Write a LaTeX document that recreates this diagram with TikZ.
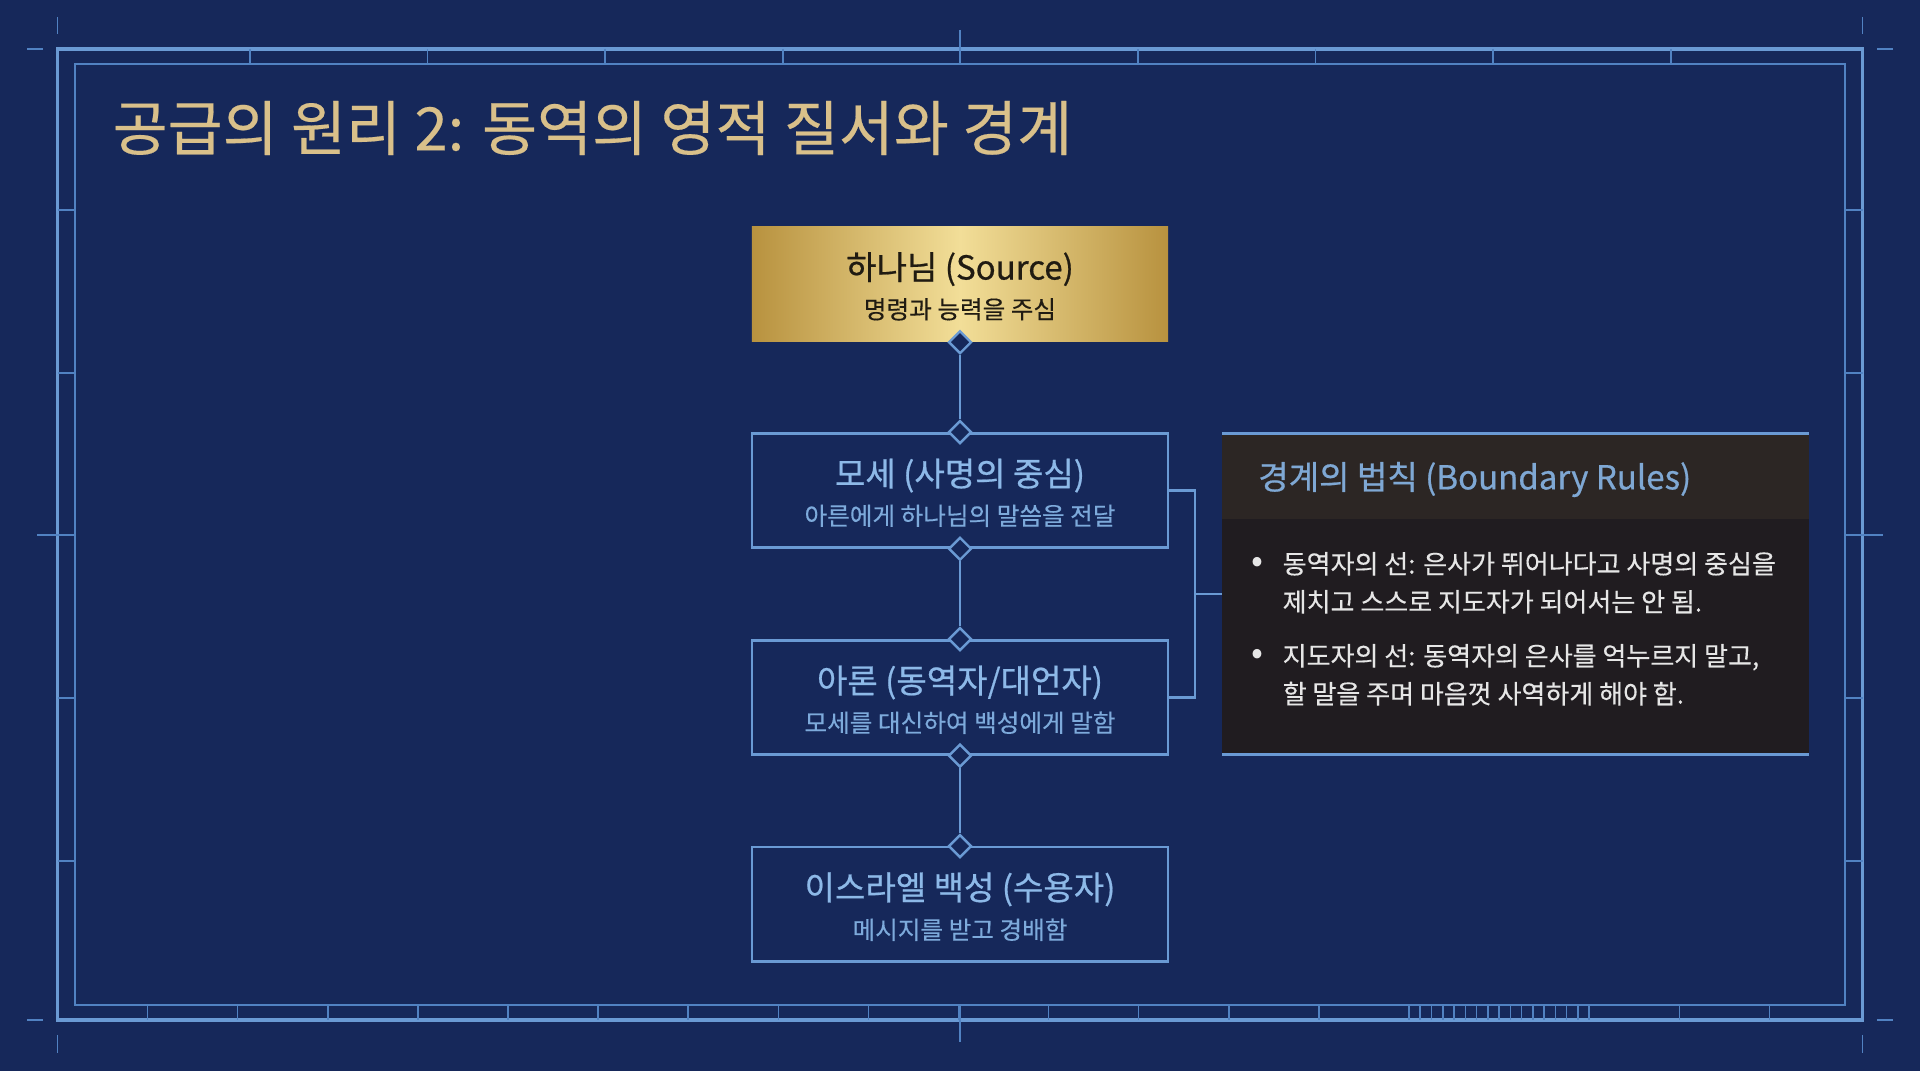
\documentclass[tikz,border=0pt]{standalone}
\usepackage{fontspec}
\setmainfont{Noto Sans CJK KR}
\newfontfamily\krheavy[FakeBold=0.6]{Noto Sans CJK KR}
\newfontfamily\krsoft[FakeBold=0.3]{Noto Sans CJK KR}
\usepackage{tikz}
\usepackage{xcolor}
\usetikzlibrary{arrows.meta,calc,shapes.geometric}

\definecolor{navy}{HTML}{16285A}
\definecolor{rule}{HTML}{6A9AD4}
\definecolor{ruledim}{HTML}{5182C2}
\definecolor{skytext}{HTML}{8DB9E8}
\definecolor{skysub}{HTML}{7DAADB}
\definecolor{goldtitle}{HTML}{D9C08A}
\definecolor{golddark}{HTML}{B8923F}
\definecolor{goldlight}{HTML}{F2DE98}
\definecolor{goldink}{HTML}{201B12}
\definecolor{panelhead}{HTML}{2C2624}
\definecolor{panelbody}{HTML}{201C20}
\definecolor{paneltitle}{HTML}{7FA8D4}
\definecolor{bullettext}{HTML}{E6E6E6}

\begin{document}
\begin{tikzpicture}[x=0.01cm, y=-0.01cm, >=Stealth,
    outerline/.style={rule, line width=1pt},
    innerline/.style={ruledim, line width=0.55pt},
    tick/.style={ruledim, line width=0.45pt},
    card/.style={draw=rule, line width=0.7pt, fill=navy, minimum width=4.16cm, minimum height=1.14cm, inner sep=0},
    goldcard/.style={card, draw=none, left color=golddark, right color=golddark, middle color=goldlight},
    cardhead/.style={font=\krheavy\fontsize{9.4}{11}\selectfont, text=skytext, inner sep=0, text height=0.8em, text depth=0.2em},
    cardsub/.style={font=\krsoft\fontsize{7}{8}\selectfont, text=skysub, inner sep=0, text height=0.8em, text depth=0.2em},
    joint/.style={diamond, draw=rule, fill=navy, line width=0.7pt, minimum width=0.23cm, minimum height=0.23cm, inner sep=0},
    link/.style={rule, line width=0.7pt},
    bullet/.style={font=\krsoft\fontsize{7.4}{8}\selectfont, text=bullettext, anchor=west, inner sep=0, text height=0.8em, text depth=0.2em}]
    \useasboundingbox (0,0) rectangle (1920,1071);
    \fill[navy] (0,0) rectangle (1920,1071);
    % Frame
    \draw[outerline] (57.5,49) rectangle (1862.5,1020);
    \draw[innerline] (74.7,63.7) rectangle (1845.4,1005.3);
    \foreach \k in {0,...,8}
        \draw[tick] ({250+177.6*\k},49) -- ++(0,14.7);
    \foreach \y in {210,373,535,698,861} {
        \draw[tick] (57.5,\y) -- (74.7,\y);
        \draw[tick] (1845.4,\y) -- (1862.5,\y);
    }
    \foreach \k in {1,...,14,18,19}
        \draw[tick] ({57.5+90.1*\k},1005.3) -- ++(0,14.7);
    \foreach \j in {0,...,16}
        \draw[tick] ({1409+11.26*\j},1005.3) -- ++(0,14.7);
    % Marks
    \draw[tick] (57.5,17) -- (57.5,34);
    \draw[tick] (27,49) -- (43,49);
    \draw[tick] (1862.5,17) -- (1862.5,34);
    \draw[tick] (1877,49) -- (1893,49);
    \draw[tick] (27,1020) -- (43,1020);
    \draw[tick] (57.5,1035) -- (57.5,1053);
    \draw[tick] (1877,1020) -- (1893,1020);
    \draw[tick] (1862.5,1035) -- (1862.5,1053);
    \draw[tick] (960,30) -- (960,64);
    \draw[tick] (960,1005) -- (960,1042);
    \draw[tick] (37,535) -- (75,535);
    \draw[tick] (1845,535) -- (1883,535);
    % Title
    \node[anchor=west, inner sep=0, text=goldtitle, font=\krsoft\fontsize{17}{20}\selectfont] (title) at (112,128) {공급의 원리 2: 동역의 영적 질서와 경계};
    % Chain
    \node[goldcard] (gold) at (960,284) {};
    \node[card] (moses) at (960,490.5) {};
    \node[card] (aaron) at (960,697.4) {};
    \node[card] (people) at (960,904.3) {};
    \node[cardhead, text=goldink] (gold-t) at (960,269) {하나님 (Source)};
    \node[cardsub, text=goldink] (gold-d) at (960,308) {명령과 능력을 주심};
    \node[cardhead] (moses-t) at (960,475.5) {모세 (사명의 중심)};
    \node[cardsub] (moses-d) at (960,514.5) {아른에게 하나님의 말씀을 전달};
    \node[cardhead] (aaron-t) at (960,682.4) {아론 (동역자/대언자)};
    \node[cardsub] (aaron-d) at (960,721.5) {모세를 대신하여 백성에게 말함};
    \node[cardhead] (people-t) at (960,889.3) {이스라엘 백성 (수용자)};
    \node[cardsub] (people-d) at (960,928.5) {메시지를 받고 경배함};
    \node[joint] (gold-s) at (gold.south) {};
    \node[joint] (moses-n) at (moses.north) {};
    \node[joint] (moses-s) at (moses.south) {};
    \node[joint] (aaron-n) at (aaron.north) {};
    \node[joint] (aaron-s) at (aaron.south) {};
    \node[joint] (people-n) at (people.north) {};
    \draw[link] (gold-s) -- (moses-n);
    \draw[link] (moses-s) -- (aaron-n);
    \draw[link] (aaron-s) -- (people-n);
    % Rules panel
    \fill[panelbody] (1222,433.5) rectangle (1808.6,754.3);
    \fill[panelhead] (1222,433.5) rectangle (1808.6,519);
    \draw[rule, line width=0.85pt] (1222,433.5) -- (1808.6,433.5);
    \draw[rule, line width=0.85pt] (1222,754.3) -- (1808.6,754.3);
    \node[anchor=west, inner sep=0, text=paneltitle, font=\krheavy\fontsize{9.4}{11}\selectfont] (rules) at (1257.6,479.5) {경계의 법칙 (Boundary Rules)};
    \node[bullet, font=\fontsize{10}{10}\selectfont] (dot1) at (1251,562) {•};
    \node[bullet] (rule1a) at (1282,563) {동역자의 선: 은사가 뛰어나다고 사명의 중심을};
    \node[bullet] (rule1b) at (1282,601) {제치고 스스로 지도자가 되어서는 안 됨.};
    \node[bullet, font=\fontsize{10}{10}\selectfont] (dot2) at (1251,654) {•};
    \node[bullet] (rule2a) at (1282,655) {지도자의 선: 동역자의 은사를 억누르지 말고,};
    \node[bullet] (rule2b) at (1282,693) {할 말을 주며 마음껏 사역하게 해야 함.};
    % Bracket
    \coordinate (brk) at (1195,594);
    \coordinate (panel-w) at (1222,594);
    \draw[link] (moses.east) -| (brk) |- (aaron.east);
    \draw[link] (brk) -- (panel-w);
\end{tikzpicture}
\end{document}
